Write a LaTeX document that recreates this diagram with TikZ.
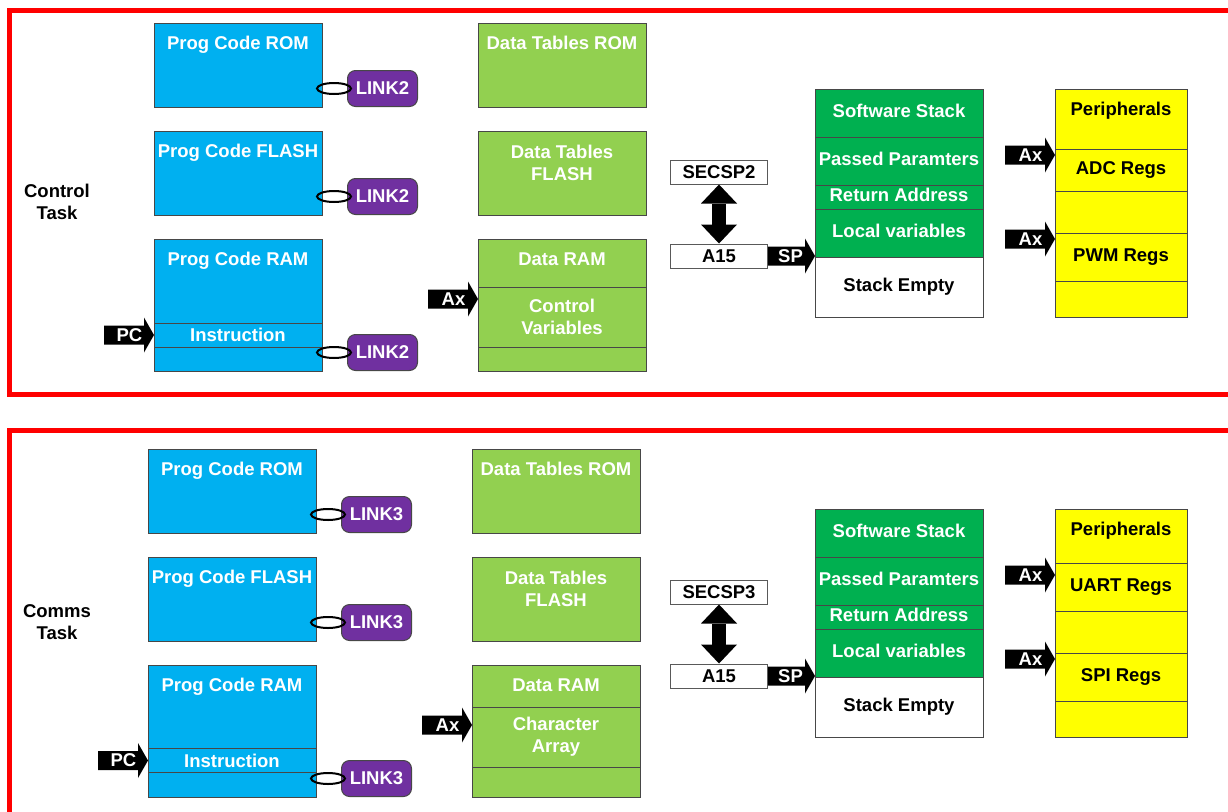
\documentclass[tikz,border=0pt]{standalone}
\usepackage{fontspec}
\setmainfont{Liberation Sans}
\usetikzlibrary{arrows.meta, positioning}

\definecolor{progblue}{HTML}{00B0F0}
\definecolor{datagreen}{HTML}{92D050}
\definecolor{stackgreen}{HTML}{00B050}
\definecolor{linkpurple}{HTML}{7030A0}
\definecolor{regyellow}{HTML}{FFFF00}
\definecolor{framered}{HTML}{FF0000}

% black block pointer: name, tip, length, label
\newcommand{\pointer}[4]{%
	\fill[shift={(#2)}] (0,0) -- (-10,-17.5) -- (-10,-9.5) -- (-#3,-9.5) -- (-#3,9.5) -- (-10,9.5) -- (-10,17.5) -- cycle;
	\node[wtxt] (#1) at ([xshift=-24.5pt]#2) {#4};
}

\begin{document}
\begin{tikzpicture}[
	x=1pt, y=-1pt,
	font=\fontsize{18.5}{22}\selectfont\bfseries,
	box/.style={draw=black!72, line width=1pt, inner sep=0pt, outer sep=0pt, minimum width=168pt},
	prog/.style={box, fill=progblue, text=white},
	data/.style={box, fill=datagreen, text=white},
	stk/.style={box, fill=stackgreen, text=white, text height=13pt, text depth=4pt},
	reg/.style={box, fill=regyellow, minimum width=132pt, text height=13pt, text depth=4pt},
	wtxt/.style={text=white, inner sep=0pt, align=center},
	btxt/.style={text=black, inner sep=0pt, align=center},
	title/.style={inner sep=0pt, text height=13pt, text depth=4pt},
	link/.style={draw=black!72, line width=1pt, fill=linkpurple, rounded corners=8pt,
		minimum width=70pt, minimum height=36pt, inner sep=0pt, text=white, anchor=south west},
	ring/.style={draw=black, line width=2pt},
	spbox/.style={draw=black!65, line width=1pt, fill=white, minimum width=97pt,
		minimum height=24pt, inner sep=0pt},
	swap/.style={line width=14pt,
		{Triangle[width=36pt,length=19pt,line width=0pt]}-{Triangle[width=36pt,length=19pt,line width=0pt]}},
	frame/.style={draw=framered, line width=5pt}
	]
	
	\useasboundingbox (0,0) rectangle (1228,811);
	
	% frames
	\draw[frame] (9.5,10.5) rectangle (1245,394.5);
	\draw[frame] (9.5,430.5) rectangle (1245,840);
	
	% ---- control task ----
	\node[btxt] (task1) at (57,202) {Control\\Task};
	
	\node[prog, minimum height=84pt] (rom1) at (238,65) {};
	\node[title, text=white] (rom1t) at ([yshift=-22pt]rom1.north) {Prog Code ROM};
	\node[prog, minimum height=84pt] (flash1) at (238,173) {};
	\node[title, text=white] (flash1t) at ([yshift=-22pt]flash1.north) {Prog Code FLASH};
	\node[prog, minimum height=132pt] (ram1) at (238,305) {};
	\node[title, text=white] (ram1t) at ([yshift=-22pt]ram1.north) {Prog Code RAM};
	\node[prog, minimum height=24pt] (instr1) at (238,335) {Instruction};
	
	\node[link] (lk1) at ([xshift=25pt]rom1.south east) {LINK2};
	\node[link] (lk2) at ([xshift=25pt]flash1.south east) {LINK2};
	\node[link] (lk3) at ([xshift=25pt]ram1.south east) {LINK2};
	\draw[ring] ([xshift=-13pt]lk1.west) ellipse (17pt and 5.5pt);
	\draw[ring] ([xshift=-13pt]lk2.west) ellipse (17pt and 5.5pt);
	\draw[ring] ([xshift=-13pt]lk3.west) ellipse (17pt and 5.5pt);
	
	\node[data, minimum height=84pt] (dtrom1) at (562,65) {};
	\node[title, text=white] (dtrom1t) at ([yshift=-22pt]dtrom1.north) {Data Tables ROM};
	\node[data, minimum height=84pt] (dtflash1) at (562,173) {};
	\node[wtxt] (dtflash1t) at ([yshift=-32pt]dtflash1.north) {Data Tables\\FLASH};
	\node[data, minimum height=132pt] (dram1) at (562,305) {};
	\node[title, text=white] (dram1t) at ([yshift=-22pt]dram1.north) {Data RAM};
	\node[data, minimum height=60pt, align=center] (cv1) at (562,317) {Control\\Variables};
	
	\node[spbox] (sec1) at (719,172) {SECSP2};
	\node[spbox] (a151) at (719,256) {A15};
	\draw[swap] (sec1.south) -- (a151.north);
	
	\node[stk, minimum height=48pt] (ss1) at (899,113) {Software Stack};
	\node[stk, minimum height=48pt, below=0pt of ss1] (pp1) {Passed Paramters};
	\node[stk, minimum height=24pt, below=0pt of pp1] (ra1) {Return Address};
	\node[stk, minimum height=48pt, below=0pt of ra1] (lv1) {Local variables};
	\node[stk, minimum height=60pt, below=0pt of lv1, fill=white, text=black] (se1) {Stack Empty};
	
	\node[reg, minimum height=60pt] (per1) at (1121,119) {};
	\node[title] (per1t) at ([yshift=-22pt]per1.north) {Peripherals};
	\node[reg, minimum height=42pt, below=0pt of per1] (adc1) {ADC Regs};
	\node[reg, minimum height=42pt, below=0pt of adc1] (gap1) {};
	\node[reg, minimum height=48pt, below=0pt of gap1] (pwm1) {PWM Regs};
	\node[reg, minimum height=36pt, below=0pt of pwm1] (end1) {};
	
	\coordinate (axd1) at ([yshift=-60pt]dram1.north west);
	\coordinate (sp1p) at (a151.east -| ss1.west);
	\coordinate (axr1) at ([yshift=-6pt]adc1.north west);
	\coordinate (axr2) at ([yshift=-6pt]pwm1.north west);
	\pointer{pc1}{instr1.west}{50}{PC}
	\pointer{ax1}{axd1}{50}{Ax}
	\pointer{sp1}{sp1p}{47}{SP}
	\pointer{ax2}{axr1}{50}{Ax}
	\pointer{ax3}{axr2}{50}{Ax}
	
	% ---- comms task ----
	\node[btxt] (task2) at (57,622) {Comms\\Task};
	
	\node[prog, minimum height=84pt] (rom2) at (232,491) {};
	\node[title, text=white] (rom2t) at ([yshift=-22pt]rom2.north) {Prog Code ROM};
	\node[prog, minimum height=84pt] (flash2) at (232,599) {};
	\node[title, text=white] (flash2t) at ([yshift=-22pt]flash2.north) {Prog Code FLASH};
	\node[prog, minimum height=132pt] (ram2) at (232,731) {};
	\node[title, text=white] (ram2t) at ([yshift=-22pt]ram2.north) {Prog Code RAM};
	\node[prog, minimum height=24pt] (instr2) at (232,760.5) {Instruction};
	
	\node[link] (lk4) at ([xshift=25pt]rom2.south east) {LINK3};
	\node[link] (lk5) at ([xshift=25pt]flash2.south east) {LINK3};
	\node[link] (lk6) at ([xshift=25pt]ram2.south east) {LINK3};
	\draw[ring] ([xshift=-13pt]lk4.west) ellipse (17pt and 5.5pt);
	\draw[ring] ([xshift=-13pt]lk5.west) ellipse (17pt and 5.5pt);
	\draw[ring] ([xshift=-13pt]lk6.west) ellipse (17pt and 5.5pt);
	
	\node[data, minimum height=84pt] (dtrom2) at (556,491) {};
	\node[title, text=white] (dtrom2t) at ([yshift=-22pt]dtrom2.north) {Data Tables ROM};
	\node[data, minimum height=84pt] (dtflash2) at (556,599) {};
	\node[wtxt] (dtflash2t) at ([yshift=-32pt]dtflash2.north) {Data Tables\\FLASH};
	\node[data, minimum height=132pt] (dram2) at (556,731) {};
	\node[title, text=white] (dram2t) at ([yshift=-22pt]dram2.north) {Data RAM};
	\node[data, minimum height=60pt, align=center] (ca2) at (556,737) {Character\\Array};
	
	\node[spbox] (sec2) at (719,592) {SECSP3};
	\node[spbox] (a152) at (719,676) {A15};
	\draw[swap] (sec2.south) -- (a152.north);
	
	\node[stk, minimum height=48pt] (ss2) at (899,533) {Software Stack};
	\node[stk, minimum height=48pt, below=0pt of ss2] (pp2) {Passed Paramters};
	\node[stk, minimum height=24pt, below=0pt of pp2] (ra2) {Return Address};
	\node[stk, minimum height=48pt, below=0pt of ra2] (lv2) {Local variables};
	\node[stk, minimum height=60pt, below=0pt of lv2, fill=white, text=black] (se2) {Stack Empty};
	
	\node[reg, minimum height=54pt] (per2) at (1121,536) {};
	\node[title] (per2t) at ([yshift=-22pt]per2.north) {Peripherals};
	\node[reg, minimum height=48pt, below=0pt of per2] (uart2) {UART Regs};
	\node[reg, minimum height=42pt, below=0pt of uart2] (gap2) {};
	\node[reg, minimum height=48pt, below=0pt of gap2] (spi2) {SPI Regs};
	\node[reg, minimum height=36pt, below=0pt of spi2] (end2) {};
	
	\coordinate (axd2) at ([yshift=-60pt]dram2.north west);
	\coordinate (sp2p) at (a152.east -| ss2.west);
	\coordinate (axr3) at ([yshift=-12pt]uart2.north west);
	\coordinate (axr4) at ([yshift=-6pt]spi2.north west);
	\pointer{pc2}{instr2.west}{50}{PC}
	\pointer{ax4}{axd2}{50}{Ax}
	\pointer{sp2}{sp2p}{47}{SP}
	\pointer{ax5}{axr3}{50}{Ax}
	\pointer{ax6}{axr4}{50}{Ax}
	
\end{tikzpicture}
\end{document}
